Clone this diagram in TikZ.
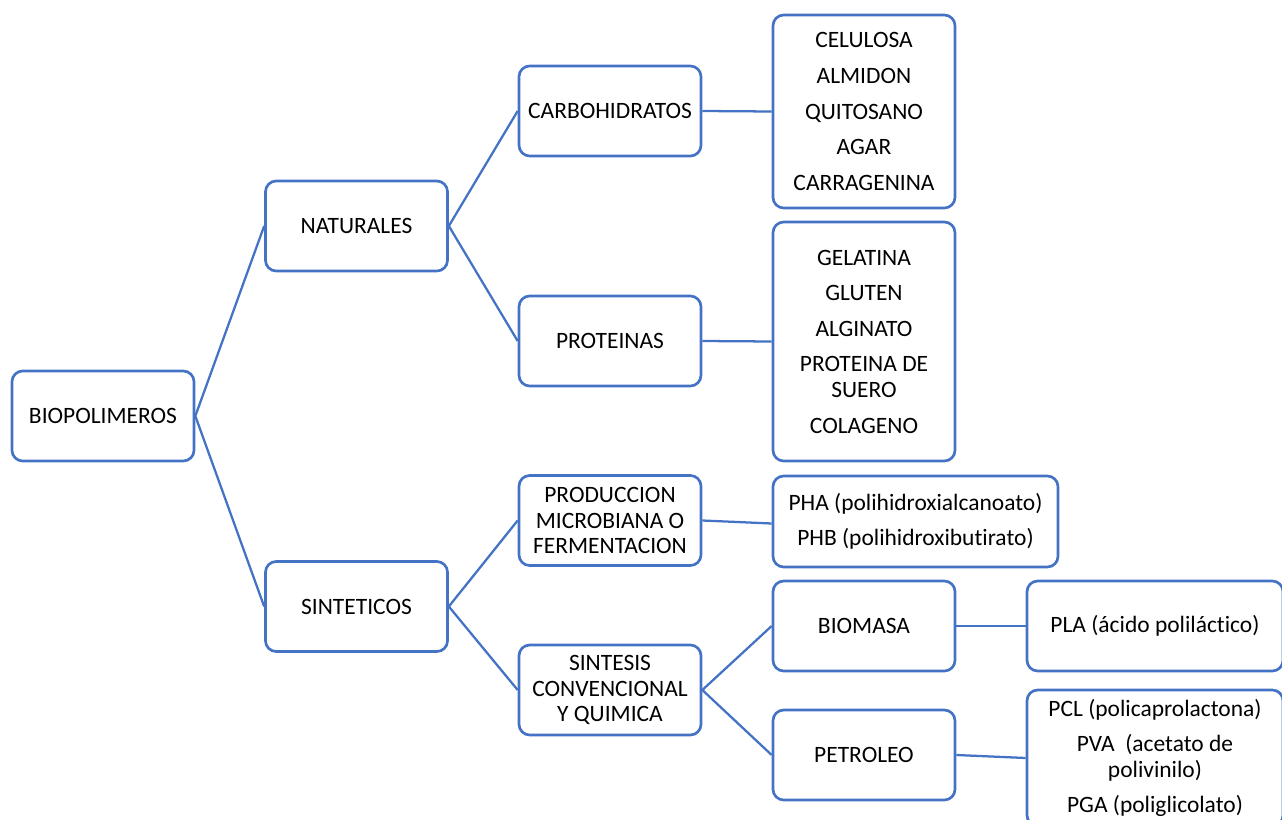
\documentclass[tikz,border=0pt]{standalone}
\usepackage{fontspec}
\setmainfont{Carlito}[Ligatures=NoCommon]
\usepackage{tikz}
\usepackage{xcolor}
\definecolor{boxblue}{HTML}{4472C4}
\tikzstyle{blk}=[draw=boxblue, line width=2pt, rounded corners=8pt, fill=white, align=center, minimum width=136.5pt, minimum height=67.5pt, inner sep=2pt, font=\fontsize{17.6}{19.2}\selectfont]
\tikzstyle{conn}=[draw=boxblue, line width=1.7pt]

\begin{document}
\begin{tikzpicture}[x=0.75pt,y=-0.75pt]
        \useasboundingbox (0,0) rectangle (1282,820);
        \clip (0,0) rectangle (1282,820);
        % first and second level
        \node [blk] (bio) at (103,416) {BIOPOLIMEROS};
        \node [blk] (nat) at (356.5,226) {NATURALES};
        \node [blk] (sin) at (356.5,606.5) {SINTETICOS};
        % third level
        \node [blk] (carb) at (610,111) {CARBOHIDRATOS};
        \node [blk] (prot) at (610,341) {PROTEINAS};
        \node [blk] (prod) at (610,520.5) {PRODUCCION\\MICROBIANA O\\FERMENTACION};
        \node [blk] (sint) at (610,690) {SINTESIS\\CONVENCIONAL\\Y QUIMICA};
        % fourth level
        \node [blk,minimum height=144.75pt] (celu) at (864,111.5) {CELULOSA\\[7.5pt]ALMIDON\\[7.5pt]QUITOSANO\\[7.5pt]AGAR\\[7.5pt]CARRAGENINA};
        \node [blk,minimum height=179.25pt] (gel) at (864,341.5) {GELATINA\\[7.5pt]GLUTEN\\[7.5pt]ALGINATO\\[7.5pt]PROTEINA DE\\SUERO\\[7.5pt]COLAGENO};
        \node [blk,minimum width=213.75pt,minimum height=68.25pt] (pha) at (915.5,521.5) {PHA (polihidroxialcanoato)\\[7.5pt]PHB (polihidroxibutirato)};
        \node [blk] (biom) at (864,626) {BIOMASA};
        \node [blk] (petr) at (864,755) {PETROLEO};
        % last level, cut at the border
        \node [blk,minimum width=192pt] (pla) at (1155,626) {PLA (ácido poliláctico)};
        \node [blk,minimum width=192pt,minimum height=102pt] (pcl) at (1155,758) {PCL (policaprolactona)\\[7.5pt]PVA~ (acetato de\\polivinilo)\\[7.5pt]PGA (poliglicolato)};

        \path[conn] (bio.east) edge (nat.west);
        \path[conn] (bio.east) edge (sin.west);
        \path[conn] (nat.east) edge (carb.west);
        \path[conn] (nat.east) edge (prot.west);
        \path[conn] (sin.east) edge (prod.west);
        \path[conn] (sin.east) edge (sint.west);
        \path[conn] (carb.east) edge (celu.west);
        \path[conn] (prot.east) edge (gel.west);
        \path[conn] (prod.east) edge ([yshift=-1.5pt]pha.west);
        \path[conn] (sint.east) edge (biom.west);
        \path[conn] (sint.east) edge (petr.west);
        \path[conn] (biom.east) edge (pla.west);
        \path[conn] (petr.east) edge (pcl.west);
\end{tikzpicture}
\end{document}
